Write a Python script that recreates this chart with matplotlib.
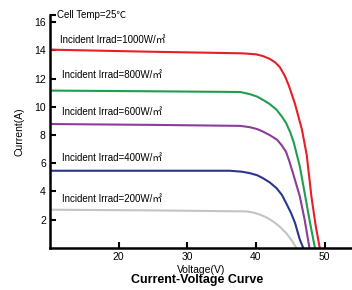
import matplotlib.pyplot as plt

# ---------------- DATA ---------------- #
v_1000 = [10, 25, 38.1, 40.0, 41.0, 42.0, 42.8, 43.5, 44.2, 44.8, 45.7, 46.7, 47.4, 48.1, 48.7, 49.3]
i_1000 = [14.05, 13.9, 13.79, 13.72, 13.6, 13.4, 13.15, 12.8, 12.2, 11.5, 10.2, 8.4, 6.6, 3.6, 1.6, 0.0]

v_800 = [10, 25, 37.7, 39.1, 40.2, 41.0, 42.0, 43.0, 43.8, 44.4, 45.0, 45.5, 46.4, 47.1, 47.8, 48.6]
i_800 = [11.15, 11.1, 11.05, 10.9, 10.72, 10.5, 10.2, 9.8, 9.3, 8.85, 8.2, 7.5, 5.77, 3.9, 2.0, 0.0]

v_600 = [10, 25, 37.7, 39.1, 40.2, 41.0, 42.0, 43.1, 43.8, 44.4, 44.9, 45.4, 46.4, 47.1, 47.8]
i_600 = [8.78, 8.72, 8.65, 8.56, 8.42, 8.25, 8.0, 7.66, 7.25, 6.8, 6.1, 5.3, 3.65, 2.0, 0.0]

v_400 = [10, 25, 36.2, 38.0, 39.1, 40.2, 41.0, 42.0, 43.0, 43.8, 44.4, 45.1, 45.7, 46.4, 46.9]
i_400 = [5.47, 5.47, 5.47, 5.4, 5.3, 5.15, 4.95, 4.65, 4.24, 3.75, 3.18, 2.5, 1.77, 0.59, 0.0]

v_200 = [10, 25, 38.6, 39.7, 40.6, 41.6, 42.5, 43.5, 44.4, 45.2, 45.9]
i_200 = [2.71, 2.66, 2.59, 2.5, 2.36, 2.15, 1.88, 1.5, 1.06, 0.55, 0.0]

labels = ["Incident Irrad=1000W/㎡", "Incident Irrad=800W/㎡", "Incident Irrad=600W/㎡",
          "Incident Irrad=400W/㎡", "Incident Irrad=200W/㎡"]
label_x = [11.4, 11.7, 11.7, 11.7, 11.7]
label_y = [14.75, 12.25, 9.6, 6.4, 3.5]

x_ticks = [20, 30, 40, 50]
y_ticks = [2, 4, 6, 8, 10, 12, 14, 16]

# ---------------- PLOT ---------------- #
plt.rcParams['font.family'] = ['Liberation Sans', 'Noto Sans CJK SC', 'DejaVu Sans']

fig = plt.figure(figsize=(3.52, 2.9), dpi=100)
ax = fig.add_axes([0.142, 0.145, 0.858, 0.803])

colors = ["#e61f26", "#1f9e50", "#8c3c99", "#2b3590", "#c4c4c4"]
curves = [(v_1000, i_1000), (v_800, i_800), (v_600, i_600), (v_400, i_400), (v_200, i_200)]
for (v, i), c in zip(curves, colors):
    ax.plot(v, i, color=c, lw=1.5, solid_joinstyle="round")

for txt, x, y in zip(labels, label_x, label_y):
    ax.text(x, y, txt, fontsize=7, ha="left", va="center")

ax.text(11.0, 16.5, "Cell Temp=25℃", fontsize=7, ha="left", va="center")

ax.set_xlim(10, 54)
ax.set_ylim(0, 16.5)
ax.set_xticks(x_ticks)
ax.set_yticks(y_ticks + [16.5])
ax.set_yticklabels([str(t) for t in y_ticks] + [""])
ax.tick_params(direction="in", length=4, width=1.5, labelsize=7.5, pad=3)

for s in ["top", "right"]:
    ax.spines[s].set_visible(False)
for s in ["left", "bottom"]:
    ax.spines[s].set_linewidth(1.8)

ax.set_ylabel("Current(A)", fontsize=7.5, labelpad=7)
ax.set_xlabel("Voltage(V)", fontsize=7.5, labelpad=2)
fig.text(0.56, 0.015, "Current-Voltage Curve", fontsize=9, fontweight="bold", ha="center", va="bottom")

plt.savefig("out.png", dpi=100)
